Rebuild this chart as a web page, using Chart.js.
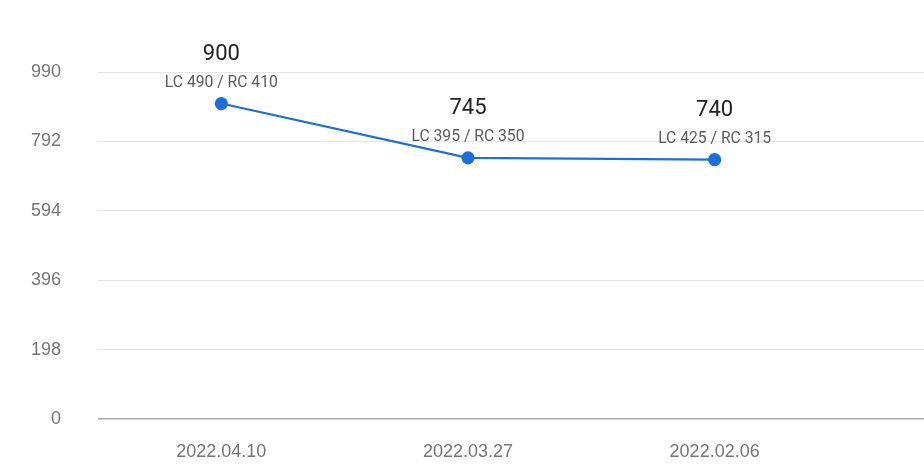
<!DOCTYPE html>
<html>
<head>
<meta charset="utf-8">
<script src="https://cdn.jsdelivr.net/npm/chart.js@4"></script>
<style>
    html, body { margin: 0; padding: 0; background: #fff; overflow: hidden; }
    .wrap { width: 932px; height: 474px; }
</style>
</head>
<body>
<div class="wrap"><canvas id="chart"></canvas></div>
<script>
const dates = ["2022.04.10", "2022.03.27", "2022.02.06"]
const totals = [900, 745, 740]
const lcValues = [490, 395, 425]
const rcValues = [410, 350, 315]
const yTicks = [0, 198, 396, 594, 792, 990]

// value labels above each point
const pointLabels = {
    id: 'pointLabels',
    afterDatasetsDraw(chart) {
        const ctx = chart.ctx
        const meta = chart.getDatasetMeta(0)
        ctx.save()
        ctx.textAlign = 'center'
        ctx.textBaseline = 'middle'
        meta.data.forEach((pt, i) => {
            ctx.fillStyle = '#222'
            ctx.font = '22px Roboto'
            ctx.fillText(String(totals[i]), pt.x, pt.y - 49)
            ctx.fillStyle = '#5c5c5c'
            ctx.font = '15.7px Roboto'
            ctx.fillText(`LC ${lcValues[i]} / RC ${rcValues[i]}`, pt.x, pt.y - 20.5)
        })
        ctx.restore()
    }
}

const ctx = document.getElementById('chart')
new Chart(ctx, {
    type: 'line',
    data: {
        datasets: [{
            data: totals.map((v, i) => ({ x: i, y: v })),
            borderColor: '#1c6fd9',
            backgroundColor: '#1c6fd9',
            borderWidth: 2.2,
            pointRadius: 5.5,
            pointHoverRadius: 5.5,
            tension: 0
        }]
    },
    options: {
        responsive: true,
        maintainAspectRatio: false,
        animation: false,
        layout: { padding: { top: 72, right: 0, left: 0, bottom: 0 } },
        plugins: {
            legend: { display: false },
            tooltip: { enabled: false }
        },
        scales: {
            x: {
                type: 'linear',
                min: -0.5,
                max: 2.85,
                afterBuildTicks: axis => { axis.ticks = dates.map((_, i) => ({ value: i })) },
                afterFit: axis => { axis.height = 55 },
                grid: { display: false, drawTicks: false },
                border: { display: false },
                ticks: {
                    padding: 22,
                    color: '#757575',
                    font: { family: 'Liberation Sans', size: 18 },
                    callback: v => dates[v] || ''
                }
            },
            y: {
                min: 0,
                max: 990,
                afterBuildTicks: axis => { axis.ticks = yTicks.map(v => ({ value: v })) },
                afterFit: axis => { axis.width = 98 },
                grid: {
                    drawTicks: false,
                    color: c => c.tick && c.tick.value === 0 ? '#a8a8a8' : '#e5e5e5',
                    lineWidth: c => c.tick && c.tick.value === 0 ? 1.5 : 1
                },
                border: { display: false },
                ticks: {
                    padding: 37,
                    color: '#757575',
                    font: { family: 'Liberation Sans', size: 18 }
                }
            }
        }
    },
    plugins: [pointLabels]
})
</script>
</body>
</html>
